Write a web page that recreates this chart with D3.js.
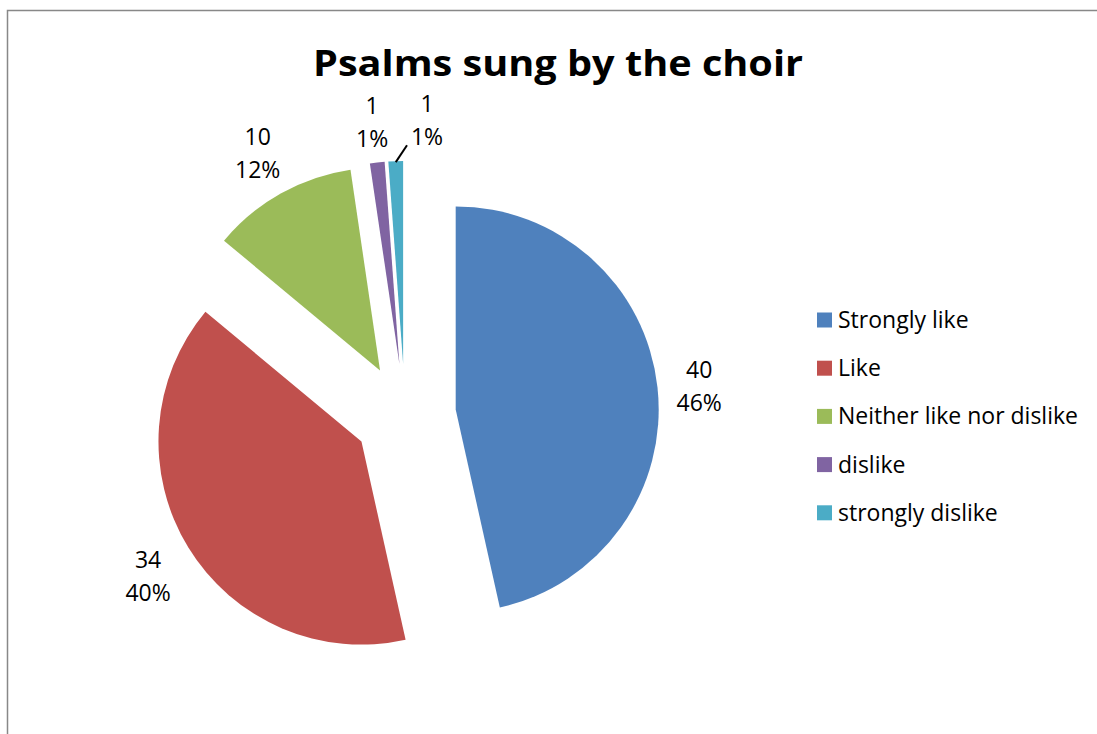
<!DOCTYPE html>
<html>
<head>
<meta charset="utf-8">
<script src="https://cdn.jsdelivr.net/npm/d3@7"></script>
<style>
  html, body { margin: 0; padding: 0; background: #fff; }
  text { font-family: "Open Sans", "Liberation Sans", sans-serif; fill: #000; }
</style>
</head>
<body>
<div id="chart"></div>
<script>
const WIDTH = 1097;
const HEIGHT = 734;

// --------------- Data ---------------
const categories = ["Strongly like", "Like", "Neither like nor dislike", "dislike", "strongly dislike"];
const counts = [40, 34, 10, 1, 1];
const pctLabels = ["46%", "40%", "12%", "1%", "1%"];
const colors = ["#4F81BD", "#C0504D", "#9BBB59", "#8064A2", "#4BACC6"];

const CENTER = [405, 415];
const RADIUS = 203;
const EXPLODE = 51;
const LABEL_R = 250;

const svg = d3.select("#chart").append("svg")
  .attr("width", WIDTH)
  .attr("height", HEIGHT);

// chart frame (top + left edges visible)
svg.append("path")
  .attr("d", `M7.5,${HEIGHT + 5} L7.5,10.5 L${WIDTH + 5},10.5`)
  .attr("fill", "none")
  .attr("stroke", "#888")
  .attr("stroke-width", 1.5);

// title
svg.append("text")
  .attr("x", 558)
  .attr("y", 76)
  .attr("text-anchor", "middle")
  .attr("font-size", 35)
  .attr("font-weight", "bold")
  .attr("textLength", 490)
  .attr("lengthAdjust", "spacingAndGlyphs")
  .text("Psalms sung by the choir");

// --------------- Pie ---------------
const rows = categories.map((c, i) => ({ name: c, value: counts[i], pct: pctLabels[i], color: colors[i] }));

const pie = d3.pie().sort(null).value(d => d.value);
const arc = d3.arc().innerRadius(0).outerRadius(RADIUS);
const arcs = pie(rows);

function midDir(d) {
  const m = (d.startAngle + d.endAngle) / 2;
  return [Math.sin(m), -Math.cos(m)];
}

const g = svg.append("g").attr("transform", `translate(${CENTER[0]},${CENTER[1]})`);

g.selectAll("path.slice")
  .data(arcs)
  .enter()
  .append("path")
  .attr("class", "slice")
  .attr("d", arc)
  .attr("fill", d => d.data.color)
  .attr("transform", d => {
    const [dx, dy] = midDir(d);
    return `translate(${dx * EXPLODE},${dy * EXPLODE})`;
  });

// label nudges where excel moved labels away from collisions
const nudge = { 0: [-5, 5], 1: [0, 5], 2: [0, 1], 3: [0, 7], 4: [33, 7] };

const labels = g.selectAll("g.lbl")
  .data(arcs)
  .enter()
  .append("g")
  .attr("class", "lbl")
  .attr("transform", (d, i) => {
    const [dx, dy] = midDir(d);
    const n = nudge[i] || [0, 0];
    const x = dx * EXPLODE + dx * LABEL_R + n[0];
    const y = dy * EXPLODE + dy * LABEL_R + n[1];
    return `translate(${x},${y})`;
  });

labels.append("text")
  .attr("text-anchor", "middle")
  .attr("font-size", 23)
  .attr("y", -9)
  .text(d => d.data.value);

labels.append("text")
  .attr("text-anchor", "middle")
  .attr("font-size", 23)
  .attr("y", 24)
  .text(d => d.data.pct);

// leader line for the small slice whose label was pushed aside
arcs.forEach((d, i) => {
  if (i !== 4) return;
  const [dx, dy] = midDir(d);
  const ex = dx * EXPLODE, ey = dy * EXPLODE;
  const p0 = [ex + dx * (RADIUS - 1), ey + dy * (RADIUS - 1)];
  const lx = ex + dx * LABEL_R + nudge[i][0];
  const ly = ey + dy * LABEL_R + nudge[i][1];
  const p1 = [lx - 20, ly + 24];
  g.append("line")
    .attr("x1", p0[0]).attr("y1", p0[1])
    .attr("x2", p1[0]).attr("y2", p1[1])
    .attr("stroke", "#000")
    .attr("stroke-width", 2);
});

// --------------- Legend ---------------
const legend = svg.append("g").attr("transform", "translate(817,320)");
const item = legend.selectAll("g")
  .data(rows)
  .enter()
  .append("g")
  .attr("transform", (d, i) => `translate(0,${i * 48.2})`);

item.append("rect")
  .attr("x", 0)
  .attr("y", -7.5)
  .attr("width", 15)
  .attr("height", 15)
  .attr("fill", d => d.color);

item.append("text")
  .attr("x", 21)
  .attr("y", 8)
  .attr("font-size", 23)
  .text(d => d.name);
</script>
</body>
</html>
